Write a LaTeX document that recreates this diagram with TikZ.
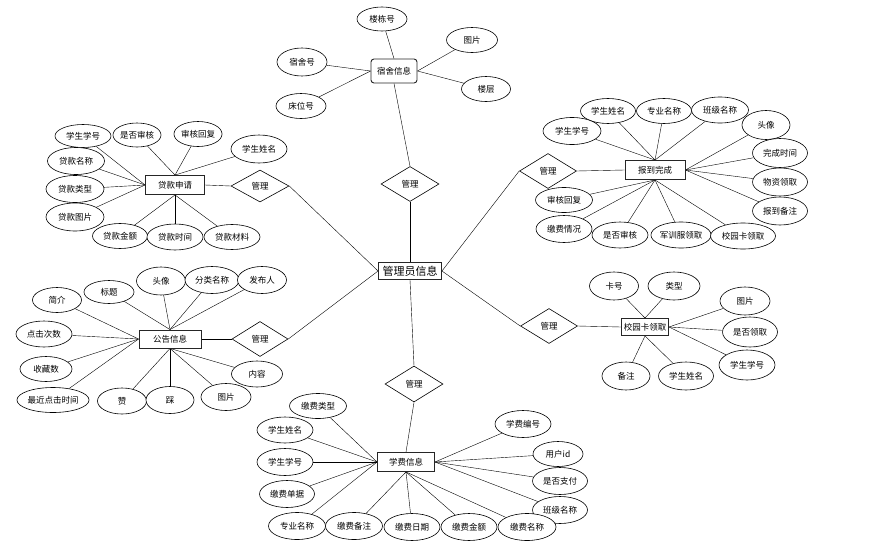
\documentclass[tikz,border=0pt]{standalone}
\usepackage{fontspec}
\newfontfamily\cjk{Noto Sans CJK SC}
\usetikzlibrary{shapes.geometric,backgrounds}
\tikzset{
  attr/.style 2 args={ellipse, draw=black, fill=white, line width=0.6pt, inner sep=0pt,
     minimum width=#1, minimum height=#2, font=\cjk\fontsize{8.5}{10}\selectfont},
  ent/.style 2 args={rectangle, draw=black!85, fill=white, line width=0.9pt, inner sep=0pt,
     minimum width=#1, minimum height=#2, font=\cjk\fontsize{8.5}{10}\selectfont},
  rel/.style 2 args={diamond, draw=black, fill=white, line width=0.6pt, inner sep=0pt,
     minimum width=#1, minimum height=#2, font=\cjk\fontsize{8.5}{10}\selectfont},
  conn/.style={line width=0.6pt, black}
}
\begin{document}
\begin{tikzpicture}[x=1pt,y=-1pt]
\useasboundingbox (0,0) rectangle (875,549);

% center
\node[ent={63}{17}, font=\cjk\fontsize{11}{12}\selectfont] (C) at (410,271) {管理员信息};

% dormitory
\node[ent={46}{24}, rounded corners=3pt] (D) at (394,71) {宿舍信息};
\node[attr={50}{24}] (d1) at (382,19) {楼栋号};
\node[attr={51}{25}] (d2) at (472,40) {图片};
\node[attr={50}{28}] (d3) at (302,62) {宿舍号};
\node[attr={49}{25}] (d4) at (486,89) {楼层};
\node[attr={50}{25}] (d5) at (301,106) {床位号};
\node[rel={58}{35}] (dm) at (410,184) {管理};

% loan
\node[ent={59}{19}] (L) at (175,185) {贷款申请};
\node[attr={56}{23}] (l1) at (83,136) {学生学号};
\node[attr={46}{24}] (l2) at (137,135) {是否审核};
\node[attr={48}{25}] (l3) at (198,134) {审核回复};
\node[attr={56}{28}] (l4) at (259,149) {学生姓名};
\node[attr={57}{27}] (l5) at (76,161) {贷款名称};
\node[attr={58}{27}] (l6) at (75,189) {贷款类型};
\node[attr={58}{28}] (l7) at (75,217) {贷款图片};
\node[attr={55}{25}] (l8) at (120,236) {贷款金额};
\node[attr={56}{26}] (l9) at (175,237) {贷款时间};
\node[attr={56}{25}] (l10) at (232,237) {贷款材料};
\node[rel={58}{32}] (lm) at (260,186) {管理};

% announcement
\node[ent={62}{18}] (A) at (170,339) {公告信息};
\node[attr={49}{25}] (a1) at (57,300) {简介};
\node[attr={50}{23}] (a2) at (109,292) {标题};
\node[attr={49}{28}] (a3) at (161,281) {头像};
\node[attr={54}{27}] (a4) at (212,280) {分类名称};
\node[attr={49}{27}] (a5) at (262,280) {发布人};
\node[attr={56}{26}] (a6) at (44,334) {点击次数};
\node[attr={52}{25}] (a7) at (46,369) {收藏数};
\node[attr={67}{25}] (a8) at (53,400) {最近点击时间};
\node[attr={49}{26}] (a9) at (122,401) {赞};
\node[attr={48}{27}] (a10) at (170,400) {踩};
\node[attr={50}{27}] (a11) at (226,397) {图片};
\node[attr={51}{26}] (a12) at (257,374) {内容};
\node[rel={56}{35}] (am) at (260,339) {管理};

% report
\node[attr={57}{25}] (r9) at (564,200) {审核回复};
\node[rel={57}{35}] (rm) at (548,171) {管理};
\node[ent={60}{19}] (R) at (655,170) {报到完成};
\node[attr={55}{25}] (r1) at (608,111) {学生姓名};
\node[attr={55}{25}] (r2) at (664,111) {专业名称};
\node[attr={57}{26}] (r3) at (720,110) {班级名称};
\node[attr={48}{29}] (r4) at (766,125) {头像};
\node[attr={58}{27}] (r5) at (572,131) {学生学号};
\node[attr={55}{29}] (r6) at (780,153) {完成时间};
\node[attr={55}{28}] (r7) at (780,182) {物资领取};
\node[attr={55}{28}] (r8) at (780,211) {报到备注};
\node[attr={56}{27}] (r10) at (564,229) {缴费情况};
\node[attr={56}{26}] (r11) at (620,235) {是否审核};
\node[attr={57}{26}] (r12) at (681,235) {军训服领取};
\node[attr={65}{26}] (r13) at (743,236) {校园卡领取};

% campus card
\node[ent={47}{17}] (K) at (645,327) {校园卡领取};
\node[attr={49}{28}] (k1) at (614,286) {卡号};
\node[attr={52}{28}] (k2) at (674,286) {类型};
\node[attr={50}{28}] (k3) at (745,301) {图片};
\node[attr={55}{30}] (k4) at (750,332) {是否领取};
\node[attr={56}{30}] (k5) at (747,365) {学生学号};
\node[attr={48}{28}] (k6) at (626,376) {备注};
\node[attr={55}{28}] (k7) at (686,376) {学生姓名};
\node[rel={57}{35}] (km) at (549,326) {管理};

% fee
\node[ent={57}{19}] (F) at (406,462) {学费信息};
\node[attr={57}{25}] (f1) at (318,406) {缴费类型};
\node[attr={56}{26}] (f2) at (285,430) {学生姓名};
\node[attr={56}{27}] (f3) at (285,462) {学生学号};
\node[attr={55}{27}] (f4) at (287,494) {缴费单据};
\node[attr={57}{27}] (f5) at (297,526) {专业名称};
\node[attr={57}{27}] (f6) at (354,526) {缴费备注};
\node[attr={56}{27}] (f7) at (412,527) {缴费日期};
\node[attr={56}{27}] (f8) at (469,527) {缴费金额};
\node[attr={55}{27}] (f10) at (560,510) {班级名称};
\node[attr={58}{27}] (f9) at (527,527) {缴费名称};
\node[attr={55}{27}] (f11) at (560,481) {是否支付};
\node[attr={50}{25}] (f12) at (558,454) {用户id};
\node[attr={56}{27}] (f13) at (523,424) {学费编号};
\node[rel={58}{36}] (fm) at (414,384) {管理};

\begin{scope}[on background layer, conn]
\fill[white] (0,0) rectangle (875,549);
% dormitory
\draw (d1) -- (D.north);
\draw (d3) -- (D.west);
\draw (d5) -- (D.west);
\draw (d2) -- (D.east);
\draw (d4) -- (D.east);
\draw (D.south) -- (dm.north);
\draw (dm.south) -- (C.north);
% loan
\foreach \n in {l1,l5,l6,l7} \draw (\n) -- (L.west);
\foreach \n in {l2,l3,l4} \draw (\n) -- (L.north);
\foreach \n in {l8,l9,l10} \draw (\n) -- (L.south);
\draw (L.east) -- (lm.west);
\draw (lm.east) -- (C.west);
% announcement
\foreach \n in {a1,a6,a7,a8} \draw (\n) -- (A.west);
\foreach \n in {a2,a3,a4,a5} \draw (\n) -- (A.north);
\foreach \n in {a9,a10,a11,a12} \draw (\n) -- (A.south);
\draw (A.east) -- (am.west);
\draw (am.east) -- (C.west);
% report
\foreach \n in {r1,r2,r3,r5} \draw (\n) -- (R.north);
\foreach \n in {r4,r6,r7,r8} \draw (\n) -- (R.east);
\foreach \n in {r9,r10,r11,r12,r13} \draw (\n) -- (R.south);
\draw (rm.east) -- (R.west);
\draw (rm.west) -- (C.east);
% card
\foreach \n in {k1,k2} \draw (\n) -- (K.north);
\foreach \n in {k3,k4,k5} \draw (\n) -- (K.east);
\foreach \n in {k6,k7} \draw (\n) -- (K.south);
\draw (km.east) -- (K.west);
\draw (km.west) -- (C.east);
% fee
\foreach \n in {f1,f2,f3,f4,f5} \draw (\n) -- (F.west);
\foreach \n in {f6,f7,f8,f9} \draw (\n) -- (F.south);
\foreach \n in {f10,f11,f12,f13} \draw (\n) -- (F.east);
\draw (F.north) -- (fm.south);
\draw (fm.north) -- (C.south);
\end{scope}
\end{tikzpicture}
\end{document}
